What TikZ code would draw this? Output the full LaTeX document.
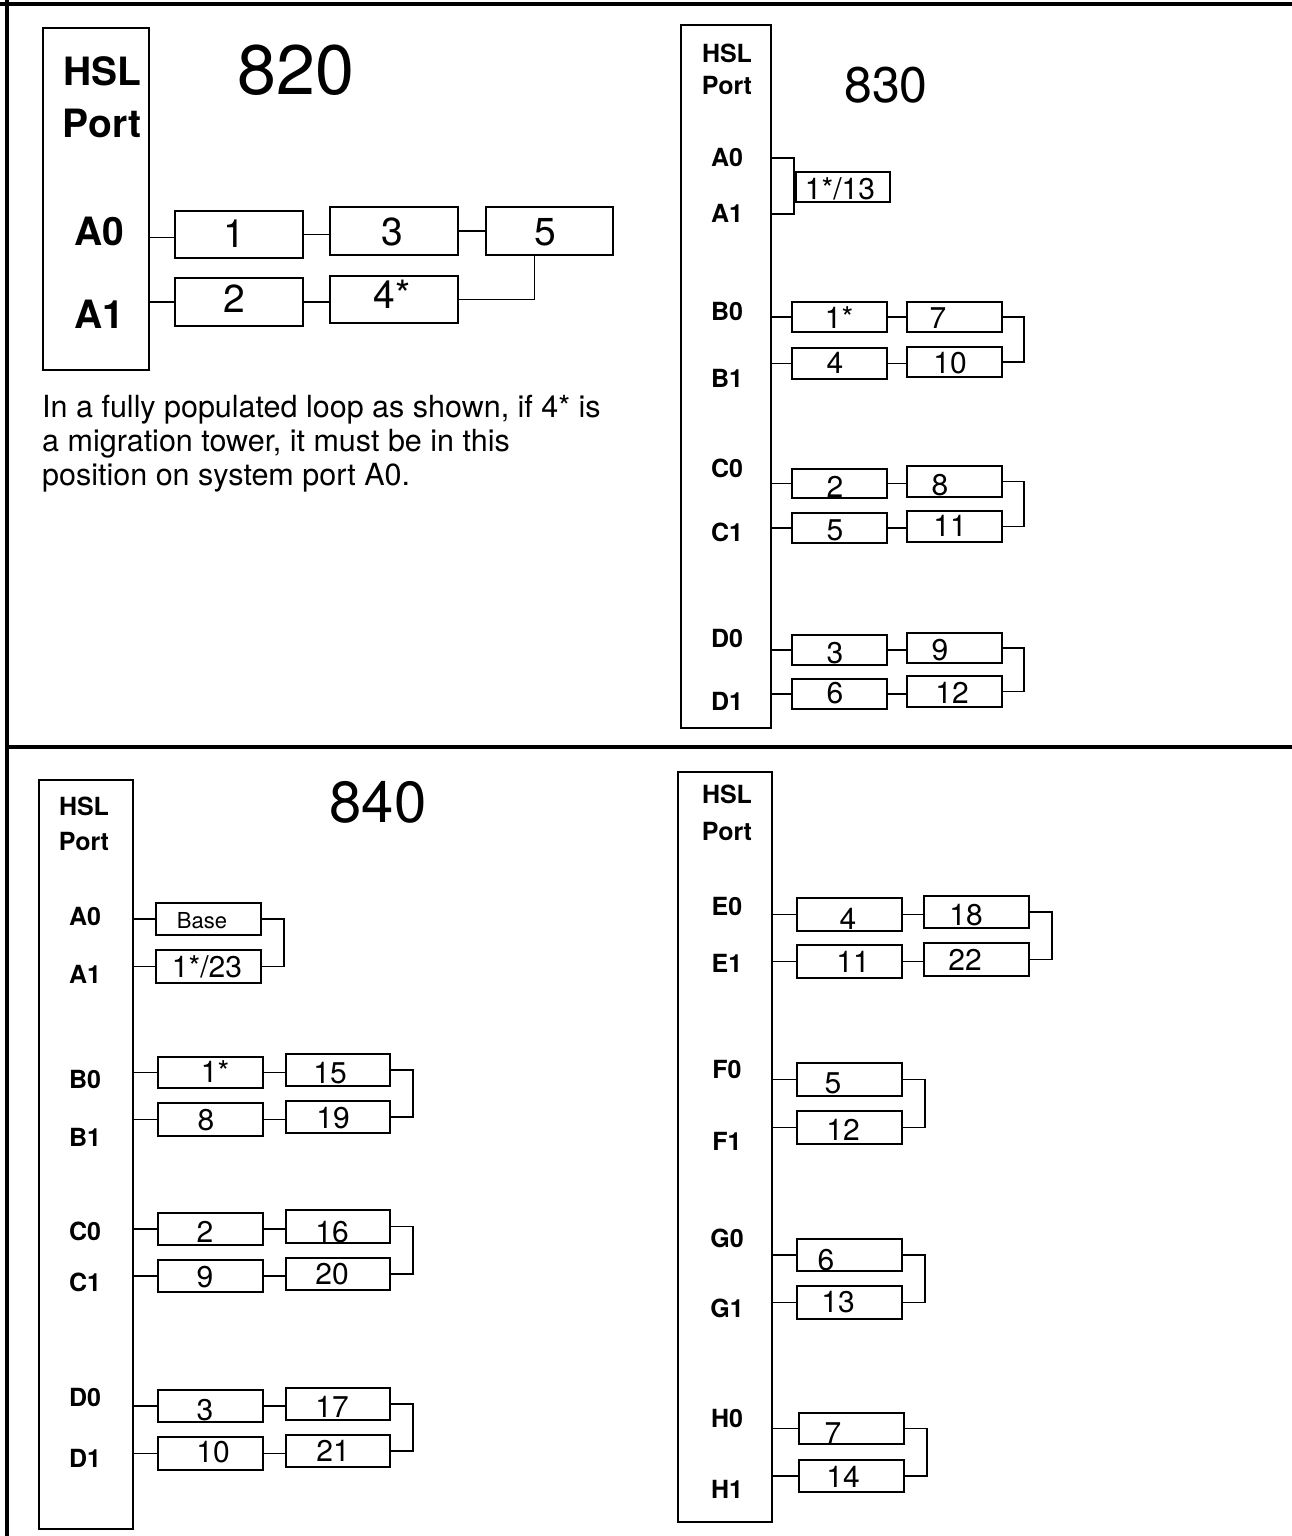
\documentclass[tikz,border=0pt]{standalone}
\usepackage{fontspec}
\setmainfont{TeX Gyre Heros}
\usetikzlibrary{calc}
% #1 text style, #2 name, #3 x1, #4 y1, #5 x2, #6 y2, #7 text x, #8 text baseline, #9 text
\newcommand\bx[9][numB]{%
  \node[rect, minimum width={#5-#3}, minimum height={#6-#4}] (#2) at ({(#3+#5)/2},{(#4+#6)/2}) {};
  \node[#1] (#2t) at (#7,#8) {#9};
}
\begin{document}
\begin{tikzpicture}[x=1pt,y=-1pt,
  rect/.style={draw, line width=1.6pt, inner sep=0pt, outer sep=0pt},
  conn/.style={line width=1.6pt},
  frame/.style={line width=3.2pt},
  numA/.style={font=\fontsize{39}{44}\selectfont, anchor=base, inner sep=0pt},
  numB/.style={font=\fontsize{30}{34}\selectfont, anchor=base, inner sep=0pt},
  numS/.style={font=\fontsize{22}{26}\selectfont, anchor=base, inner sep=0pt},
  lblA/.style={font=\bfseries\fontsize{39}{44}\selectfont, anchor=base, inner sep=0pt},
  lblB/.style={font=\bfseries\fontsize{25}{30}\selectfont, anchor=base, inner sep=0pt},
  para/.style={font=\fontsize{30.5}{34}\selectfont, anchor=base west, inner sep=0pt}
]
\useasboundingbox (0,0) rectangle (1292,1536);
% frame
\draw[frame] (0,4) -- (1292,4);
\draw[frame] (7,0) -- (7,1536);
\draw[frame] (7,747) -- (1292,747);

%% ---------------- 820 ----------------
\node[rect, minimum width=106, minimum height=342] (hsl820) at (96,199) {};
\node[lblA] (t820h) at (102,86) {HSL};
\node[lblA] (t820p) at (102,138) {Port};
\node[lblA] (t820a0) at (99,245) {A0};
\node[lblA] (t820a1) at (99,328) {A1};
\node[font=\fontsize{70}{80}\selectfont, anchor=base, inner sep=0pt] (title820) at (296,95) {820};
\bx[numA]{u1}{175}{211}{303}{258}{234}{247}{1}
\bx[numA]{u3}{330}{207}{458}{255}{392}{245}{3}
\bx[numA]{u5}{486}{207}{613}{255}{545}{245}{5}
\bx[numA]{u2}{175}{278}{303}{326}{234}{312}{2}
\bx[numA]{u4}{330}{276}{458}{323}{392}{308}{4*}
\draw[conn] ([yshift=-3pt]hsl820.east |- u1.west) -- ([yshift=-3pt]u1.west);
\draw[conn] (u1.east) -- (u1.east -| u3.west);
\draw[conn] (u3.east) -- (u3.east -| u5.west);
\draw[conn] (hsl820.east |- u2.west) -- (u2.west);
\draw[conn] (u2.east) -- (u2.east -| u4.west);
\draw[conn] (u4.east) -| ([xshift=-15pt]u5.south);
\node[para] (note1) at (42,417) {In a fully populated loop as shown, if 4* is};
\node[para] (note2) at (42,451) {a migration tower, it must be in this};
\node[para] (note3) at (42,485) {position on system port A0.};

%% ---------------- 830 ----------------
\node[rect, minimum width=90, minimum height=703] (hsl830) at (726,376.5) {};
\node[lblB] (t830h) at (727,63) {HSL};
\node[lblB] (t830p) at (727,95) {Port};
\node[font=\fontsize{50}{58}\selectfont, anchor=base, inner sep=0pt] (title830) at (886,103) {830};
\node[lblB] (v0a0) at (727,166) {A0};
\node[lblB] (v0a1) at (727,222) {A1};
\node[lblB] (v0b0) at (727,320) {B0};
\node[lblB] (v0b1) at (727,387) {B1};
\node[lblB] (v0c0) at (727,477) {C0};
\node[lblB] (v0c1) at (727,541) {C1};
\node[lblB] (v0d0) at (727,647) {D0};
\node[lblB] (v0d1) at (727,710) {D1};
\bx[numB]{v13}{796}{172}{890}{202}{840}{199}{1*/13}
\coordinate (kva) at (794,158);
\coordinate (kvb) at (794,214);
\draw[conn] (kva -| hsl830.east) -- (kva) -- (kvb) -- (kvb -| hsl830.east);
% B
\bx{v1}{792}{302}{887}{332}{839}{328}{1*}
\bx{v7}{907}{302}{1002}{332}{938}{328}{7}
\bx{v4}{792}{348}{887}{379}{835}{373}{4}
\bx{v10}{907}{347}{1002}{377}{950}{373}{10}
% C
\bx{v2}{792}{469}{887}{498}{835}{497}{2}
\bx{v8}{907}{466}{1002}{497}{940}{495}{8}
\bx{v5}{792}{513}{887}{543}{835}{540}{5}
\bx{v11}{907}{511}{1002}{542}{950}{536}{11}
% D
\bx{v3}{792}{635}{887}{665}{835}{663}{3}
\bx{v9}{907}{633}{1002}{663}{940}{660}{9}
\bx{v6}{792}{679}{887}{709}{835}{703}{6}
\bx{v12}{907}{676}{1002}{707}{952}{703}{12}
\foreach \a/\b/\c/\d in {v1/v7/v4/v10, v2/v8/v5/v11, v3/v9/v6/v12}{
  \draw[conn] (hsl830.east |- \a.west) -- (\a.west);
  \draw[conn] (\a.east) -- (\a.east -| \b.west);
  \draw[conn] (hsl830.east |- \c.west) -- (\c.west);
  \draw[conn] (\c.east) -- (\c.east -| \d.west);
  \draw[conn] (\b.east) -- ++(22,0) |- (\d.east);
}

%% ---------------- 840 ----------------
\node[rect, minimum width=94, minimum height=749] (hsl840) at (86,1154.5) {};
\node[lblB] (t840h) at (84,815) {HSL};
\node[lblB] (t840p) at (84,850) {Port};
\node[font=\fontsize{58}{66}\selectfont, anchor=base, inner sep=0pt] (title840) at (378,822) {840};
\node[lblB] (w0a0) at (85,925) {A0};
\node[lblB] (w0a1) at (85,983) {A1};
\node[lblB] (w0b0) at (85,1088) {B0};
\node[lblB] (w0b1) at (85,1146) {B1};
\node[lblB] (w0c0) at (85,1240) {C0};
\node[lblB] (w0c1) at (85,1291) {C1};
\node[lblB] (w0d0) at (85,1406) {D0};
\node[lblB] (w0d1) at (85,1467) {D1};
\bx[numS]{wbase}{156}{903}{261}{935}{202}{928}{Base}
\bx{w123}{156}{950}{261}{983}{207}{977}{1*/23}
\draw[conn] (hsl840.east |- wbase.west) -- (wbase.west);
\draw[conn] (hsl840.east |- w123.west) -- (w123.west);
\draw[conn] (wbase.east) -- ++(23,0) |- (w123.east);
\bx{w1}{158}{1057}{263}{1088}{215}{1082}{1*}
\bx{w15}{286}{1054}{390}{1086}{330}{1083}{15}
\bx{w8}{158}{1103}{263}{1136}{206}{1130}{8}
\bx{w19}{286}{1101}{390}{1133}{333}{1128}{19}
\bx{w2}{158}{1213}{263}{1245}{205}{1242}{2}
\bx{w16}{286}{1210}{390}{1243}{332}{1242}{16}
\bx{w9}{158}{1260}{263}{1292}{205}{1287}{9}
\bx{w20}{286}{1258}{390}{1290}{332}{1284}{20}
\bx{w3}{158}{1390}{263}{1422}{205}{1420}{3}
\bx{w17}{286}{1388}{390}{1420}{332}{1417}{17}
\bx{w10}{158}{1437}{263}{1470}{213}{1462}{10}
\bx{w21}{286}{1435}{390}{1467}{333}{1461}{21}
\foreach \a/\b/\c/\d in {w1/w15/w8/w19, w2/w16/w9/w20, w3/w17/w10/w21}{
  \draw[conn] (hsl840.east |- \a.west) -- (\a.west);
  \draw[conn] (\a.east) -- (\a.east -| \b.west);
  \draw[conn] (hsl840.east |- \c.west) -- (\c.west);
  \draw[conn] (\c.east) -- (\c.east -| \d.west);
  \draw[conn] (\b.east) -- ++(23,0) |- (\d.east);
}

%% ---------------- E-H ----------------
\node[rect, minimum width=94, minimum height=750] (hslz) at (725,1147) {};
\node[lblB] (tzh) at (727,803) {HSL};
\node[lblB] (tzp) at (727,840) {Port};
\node[lblB] (z0e0) at (727,915) {E0};
\node[lblB] (z0e1) at (727,972) {E1};
\node[lblB] (z0f0) at (727,1078) {F0};
\node[lblB] (z0f1) at (727,1150) {F1};
\node[lblB] (z0g0) at (727,1247) {G0};
\node[lblB] (z0g1) at (727,1317) {G1};
\node[lblB] (z0h0) at (727,1427) {H0};
\node[lblB] (z0h1) at (727,1498) {H1};
\bx{z4}{797}{898}{902}{931}{848}{929}{4}
\bx{z18}{924}{896}{1029}{928}{966}{925}{18}
\bx{z11}{797}{945}{902}{978}{853}{972}{11}
\bx{z22}{924}{943}{1029}{976}{965}{970}{22}
\draw[conn] (hslz.east |- z4.west) -- (z4.west);
\draw[conn] (z4.east) -- (z4.east -| z18.west);
\draw[conn] (hslz.east |- z11.west) -- (z11.west);
\draw[conn] (z11.east) -- (z11.east -| z22.west);
\draw[conn] (z18.east) -- ++(23,0) |- (z22.east);
\bx{z5}{797}{1063}{902}{1096}{833}{1093}{5}
\bx{z12}{797}{1111}{902}{1144}{843}{1140}{12}
\bx{z6}{797}{1239}{902}{1271}{826}{1270}{6}
\bx{z13}{797}{1286}{902}{1319}{838}{1312}{13}
\bx{z7}{799}{1413}{904}{1444}{833}{1443}{7}
\bx{z14}{799}{1460}{904}{1492}{843}{1487}{14}
\foreach \a/\c in {z5/z12, z6/z13, z7/z14}{
  \draw[conn] (hslz.east |- \a.west) -- (\a.west);
  \draw[conn] (hslz.east |- \c.west) -- (\c.west);
  \draw[conn] (\a.east) -- ++(23,0) |- (\c.east);
}
\end{tikzpicture}
\end{document}
